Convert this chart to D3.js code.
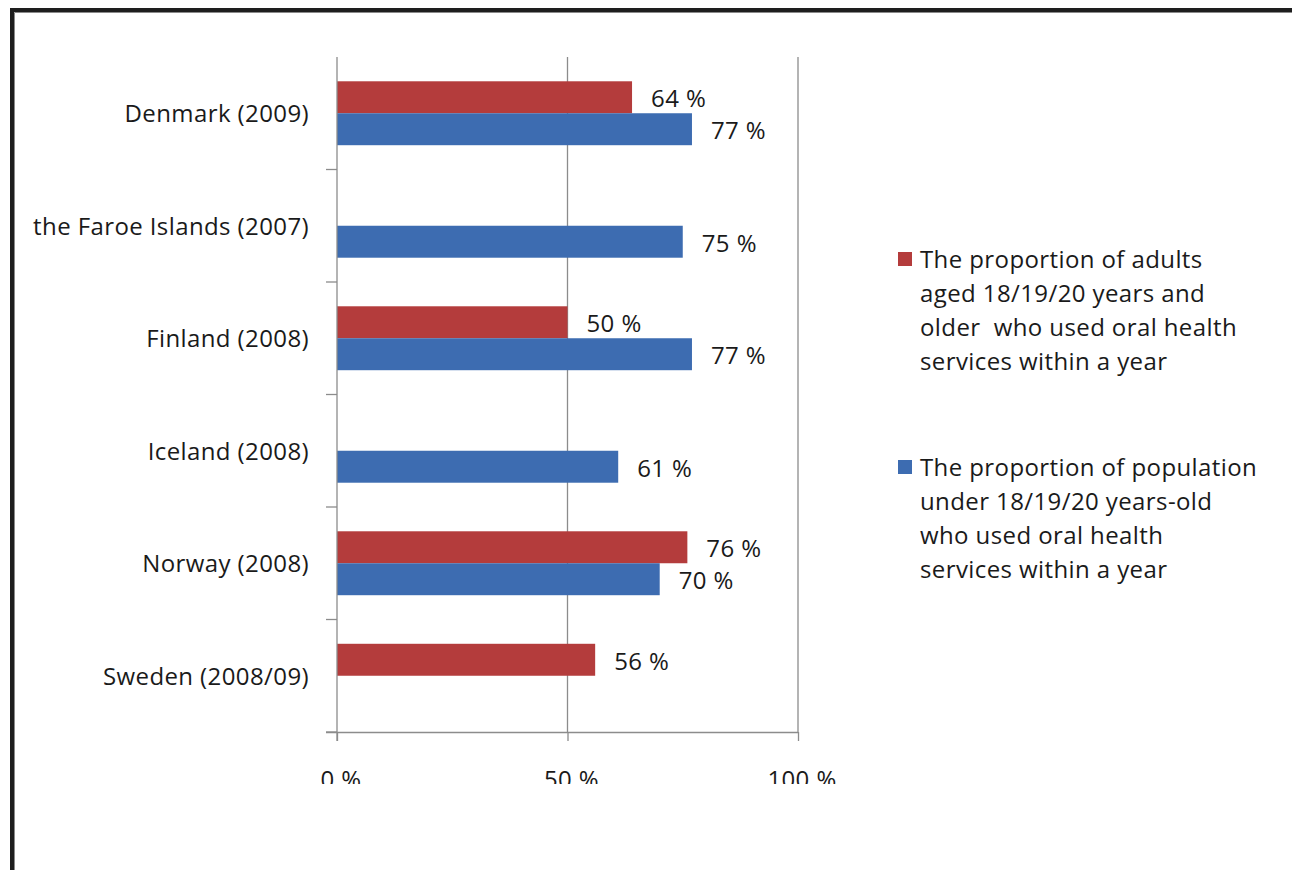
<!DOCTYPE html>
<html>
<head>
<meta charset="utf-8">
<script src="https://cdn.jsdelivr.net/npm/d3@7"></script>
<style>
body{margin:0;background:#fff;}
text{font-family:"Open Sans",Lato,sans-serif;fill:#1a1a1a;font-size:24px;letter-spacing:0.4px;}
</style>
</head>
<body>
<svg id="chart"></svg>
<script>
var width=1292, height=870;

var categories=["Denmark (2009)","the Faroe Islands (2007)","Finland (2008)","Iceland (2008)","Norway (2008)","Sweden (2008/09)"];
var adults=[64,null,50,null,76,56];
var youth=[77,75,77,61,70,null];
var xTicks=[0,50,100];
var seriesKeys=["adults","youth"];
var seriesColors=["#B43C3C","#3D6CB1"];
var legendLines=[
  ["The proportion of adults","aged 18/19/20 years and","older  who used oral health","services within a year"],
  ["The proportion of population","under 18/19/20 years-old","who used oral health","services within a year"]
];

var svg=d3.select("#chart").attr("width",width).attr("height",height);

// frame (left + top)
svg.append("path").attr("d","M12,870 L12,10 L1292,10")
  .attr("fill","none").attr("stroke","#1e1e1e").attr("stroke-width",4);
svg.append("path").attr("d","M14.5,870 L14.5,12.5 L1292,12.5")
  .attr("fill","none").attr("stroke","#8a8a8a").attr("stroke-width",1);

var x=d3.scaleLinear().domain([0,100]).range([337,798]);
var y=d3.scaleBand().domain(categories).range([57,732]).padding(0);
var sub=d3.scaleBand().domain(seriesKeys).range([0,y.bandwidth()]).paddingInner(0).paddingOuter(0.76);

// gridlines
svg.selectAll(".grid").data(xTicks.slice(1)).enter().append("line")
  .attr("x1",function(d){return x(d);}).attr("x2",function(d){return x(d);})
  .attr("y1",57).attr("y2",732)
  .attr("stroke","#8c8c8c").attr("stroke-width",1.3);

// bars
var rows=categories.map(function(c,i){return {cat:c,adults:adults[i],youth:youth[i]};});
seriesKeys.forEach(function(k,si){
  var data=rows.filter(function(r){return r[k]!=null;});
  svg.selectAll(".bar-"+k).data(data).enter()
    .append("rect")
    .attr("x",x(0))
    .attr("y",function(d){return y(d.cat)+sub(k);})
    .attr("width",function(d){return x(d[k])-x(0);})
    .attr("height",sub.bandwidth())
    .attr("fill",seriesColors[si]);
  svg.selectAll(".lab-"+k).data(data).enter()
    .append("text")
    .attr("x",function(d){return x(d[k])+19;})
    .attr("y",function(d){return y(d.cat)+sub(k)+sub.bandwidth()/2+10;})
    .text(function(d){return d[k]+" %";});
});

// y axis line + boundary ticks
svg.append("line").attr("x1",x(0)).attr("x2",x(0)).attr("y1",57).attr("y2",741)
  .attr("stroke","#8c8c8c").attr("stroke-width",1.3);
var bounds=categories.map(function(c){return y(c)+y.bandwidth();});
svg.selectAll(".ytick").data(bounds).enter().append("line")
  .attr("x1",326).attr("x2",x(0))
  .attr("y1",function(d){return d;}).attr("y2",function(d){return d;})
  .attr("stroke","#8c8c8c").attr("stroke-width",1.3);

// category labels
svg.selectAll(".cat").data(categories).enter().append("text")
  .attr("x",309)
  .attr("y",function(d){return y(d)+y.bandwidth()/2+9;})
  .attr("text-anchor","end")
  .text(function(d){return d;});

// x axis
svg.append("defs").append("clipPath").attr("id","xclip")
  .append("rect").attr("x",280).attr("y",745).attr("width",600).attr("height",39);
var xAxis=svg.append("g").attr("transform","translate(0,732)")
  .call(d3.axisBottom(x).tickValues(xTicks).tickSize(9)
    .tickFormat(function(d){return d+" %";}));
xAxis.selectAll("path,line").attr("stroke","#8c8c8c").attr("stroke-width",1.3);
xAxis.select(".domain").attr("d","M326,0.5H"+x(100));
var clipG=svg.append("g").attr("clip-path","url(#xclip)");
xAxis.selectAll(".tick").each(function(d){
  clipG.append("text").attr("x",x(d)+4).attr("y",788).attr("text-anchor","middle")
    .text(d+" %");
  d3.select(this).select("text").remove();
});

// legend
var lg=svg.append("g");
legendLines.forEach(function(lines,i){
  var top=[259,467][i];
  lg.append("rect").attr("x",898).attr("y",top-7).attr("width",14).attr("height",14)
    .attr("fill",seriesColors[i]);
  lines.forEach(function(l,j){
    lg.append("text").attr("x",920).attr("y",top+9+j*34)
      .attr("xml:space","preserve").style("white-space","pre")
      .text(l);
  });
});
</script>
</body>
</html>
